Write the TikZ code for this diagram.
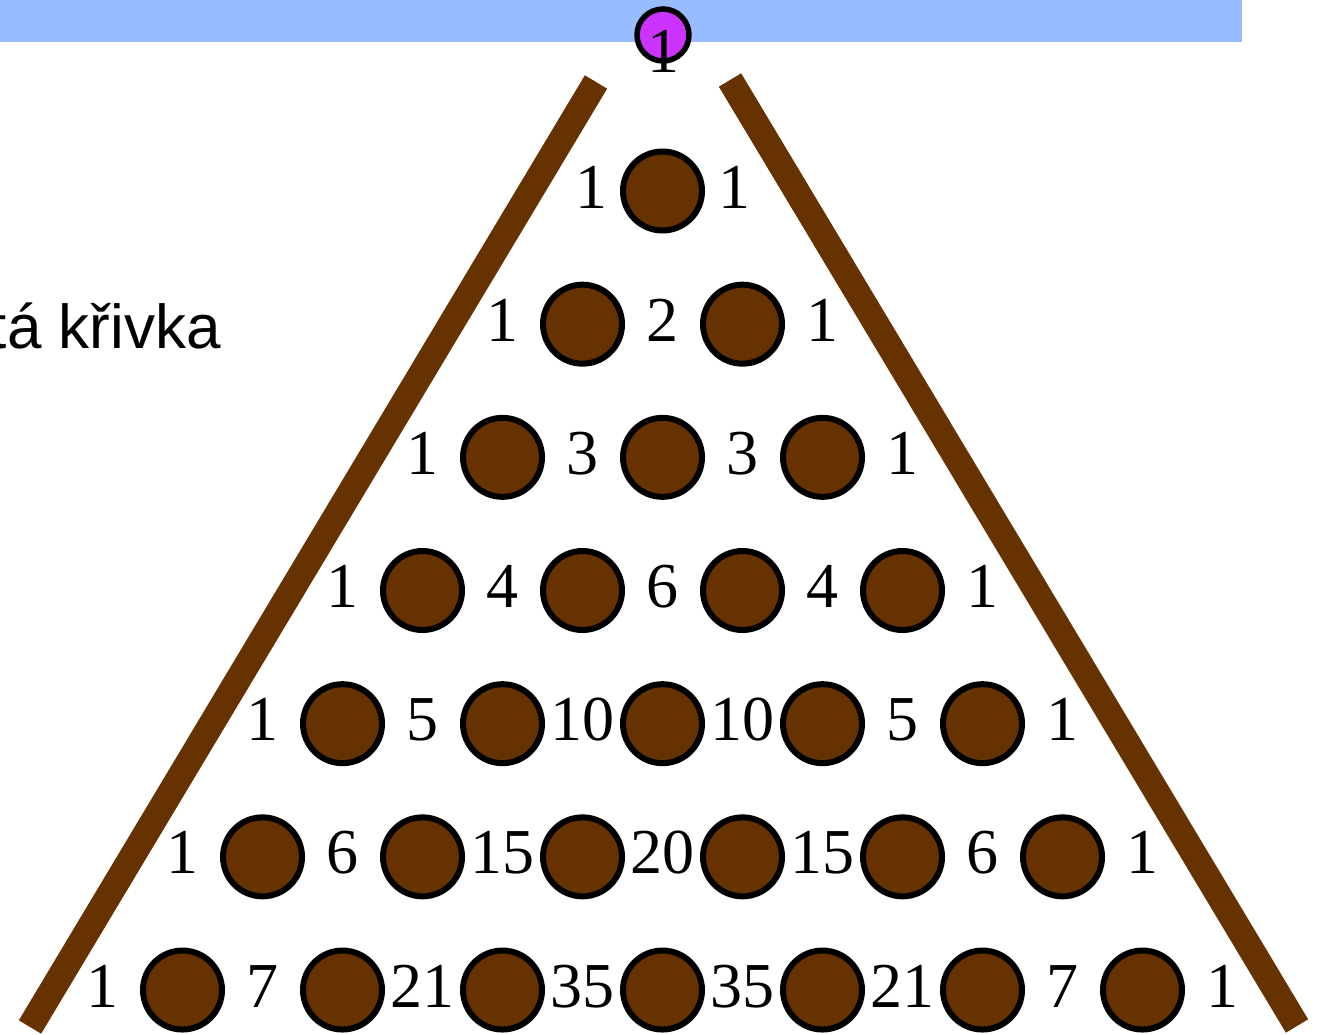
\documentclass[tikz,border=0pt]{standalone}
\usepackage{fontspec}
\setmainfont{Liberation Serif}
\newfontfamily\labelsans{Liberation Sans}
\definecolor{boardbrown}{RGB}{102,51,0}
\definecolor{barblue}{RGB}{153,187,255}
\definecolor{ballpurple}{RGB}{204,51,255}
\begin{document}
\begin{tikzpicture}[x=1pt,y=-1pt,
  peg/.style={circle,draw=black,line width=6pt,fill=boardbrown,minimum size=79pt,inner sep=0pt},
  num/.style={font=\fontsize{64}{64}\selectfont,inner sep=0pt,anchor=base},
  wall/.style={draw=boardbrown,line width=26pt},
  ballstyle/.style={circle,draw=black,line width=5.5pt,fill=ballpurple,minimum size=52pt,inner sep=0pt}]
\useasboundingbox (0,0) rectangle (1317,1035);
\fill[barblue] (0,0) rectangle (1242,42);
% caption
\node[font=\labelsans\fontsize{62}{62}\selectfont,anchor=base east,inner sep=0pt] (caption) at (221,348) {zvonovitá křivka};
% walls
\coordinate (lt) at (596,82);
\coordinate (lb) at (30,1027);
\coordinate (rt) at (730,80);
\coordinate (rb) at (1297,1026);
\draw[wall] (lt) -- (lb);
\draw[wall] (rt) -- (rb);
% pegs
\foreach \n in {1,...,7} {
  \foreach \j in {1,...,\n} {
    \node[peg] (p\n-\j) at ({662.5+160*(\j-1-(\n-1)/2)}, {191+133.17*(\n-1)}) {};
  }
}
% numbers
\node[num] (n1-1) at (591,208) {1};
\node[num] (n1-2) at (734,208) {1};
\foreach \n/\vals in {2/{1,2,1},3/{1,3,3,1},4/{1,4,6,4,1},5/{1,5,10,10,5,1},6/{1,6,15,20,15,6,1},7/{1,7,21,35,35,21,7,1}} {
  \foreach \v [count=\j] in \vals {
    \node[num] (n\n-\j) at ({662.5+160*(\j-1-\n/2)}, {208+133.17*(\n-1)}) {\v};
  }
}
% ball
\node[ballstyle] (ball) at (663,35) {};
\node[num] (balllabel) at (663,73) {1};
\end{tikzpicture}
\end{document}
